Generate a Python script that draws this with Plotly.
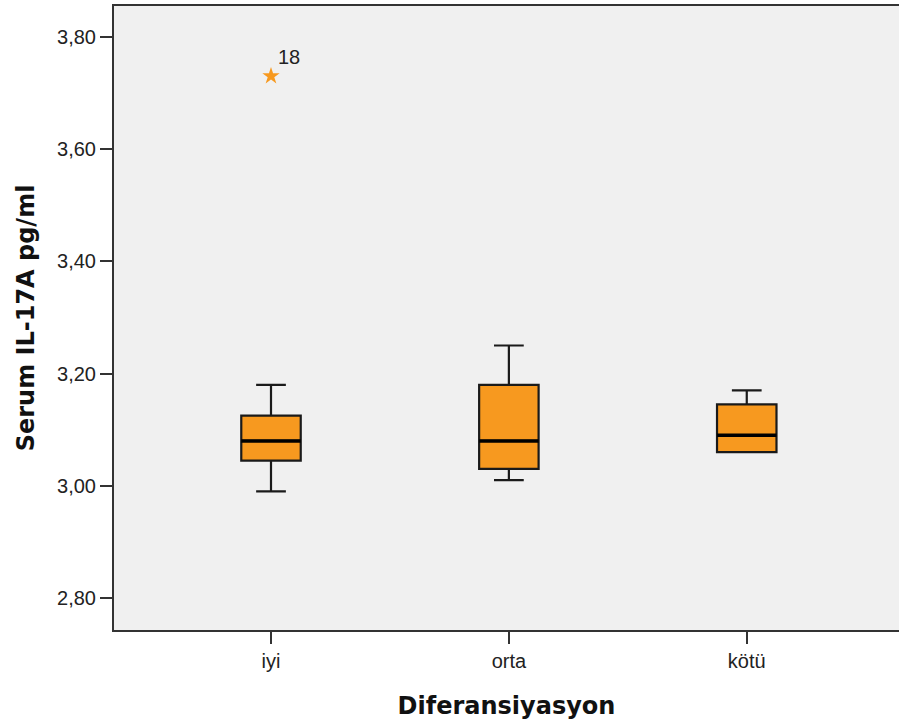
import plotly.graph_objects as go

# Serum IL-17A by differentiation grade (SPSS-style boxplot summary)
categories = ["iyi", "orta", "kötü"]
lower_whisker = [2.99, 3.01, 3.06]
q1_values = [3.045, 3.03, 3.06]
medians = [3.08, 3.08, 3.09]
q3_values = [3.125, 3.18, 3.145]
upper_whisker = [3.18, 3.25, 3.17]

# Extreme value flagged by case number
outlier_category = ["iyi"]
outlier_values = [3.73]
outlier_labels = ["18"]

y_ticks = [2.80, 3.00, 3.20, 3.40, 3.60, 3.80]
y_tick_text = ["2,80", "3,00", "3,20", "3,40", "3,60", "3,80"]

BOX_FILL = "#F7991F"
LINE = "#1a1a1a"
BOX_WIDTH = 0.25
TICK_FONT = "Liberation Sans, Arial, sans-serif"
TITLE_FONT = "DejaVu Sans, Verdana, sans-serif"

positions = list(range(len(categories)))

fig = go.Figure()

fig.add_trace(go.Box(
    x=positions,
    q1=q1_values,
    median=medians,
    q3=q3_values,
    lowerfence=lower_whisker,
    upperfence=upper_whisker,
    width=BOX_WIDTH,
    whiskerwidth=0.5,
    fillcolor=BOX_FILL,
    line=dict(color=LINE, width=2.2),
    boxpoints=False,
    hoverinfo="skip",
    showlegend=False,
))

# Heavier median bars drawn over each box
for pos, med in zip(positions, medians):
    fig.add_trace(go.Scatter(
        x=[pos - BOX_WIDTH / 2, pos + BOX_WIDTH / 2],
        y=[med, med],
        mode="lines",
        line=dict(color="#000000", width=3.5),
        hoverinfo="skip",
        showlegend=False,
    ))

outlier_x = [categories.index(c) for c in outlier_category]
fig.add_trace(go.Scatter(
    x=outlier_x,
    y=outlier_values,
    mode="markers",
    marker=dict(symbol="star", size=13, color=BOX_FILL,
                line=dict(width=0)),
    hoverinfo="skip",
    showlegend=False,
))
for xv, yv, lab in zip(outlier_x, outlier_values, outlier_labels):
    fig.add_annotation(
        x=xv, y=yv, text=lab, showarrow=False,
        xanchor="left", yanchor="bottom", xshift=5, yshift=6,
        font=dict(family=TICK_FONT, size=20, color="#222222"),
    )

fig.update_layout(
    width=899,
    height=725,
    margin=dict(l=114, r=0, t=6, b=95),
    paper_bgcolor="#FFFFFF",
    plot_bgcolor="#F0F0F0",
    font=dict(family=TICK_FONT, size=20, color="#222222"),
    xaxis=dict(
        range=[-0.66, 2.64],
        tickmode="array",
        tickvals=positions,
        ticktext=categories,
        ticks="outside",
        ticklen=12,
        tickwidth=2,
        tickcolor="#333333",
        showline=True,
        linecolor="#333333",
        linewidth=2,
        mirror=True,
        showgrid=False,
        zeroline=False,
        tickfont=dict(size=20),
        title=dict(text="<b>Diferansiyasyon</b>", standoff=26,
                   font=dict(family=TITLE_FONT, size=24, color="#111111")),
    ),
    yaxis=dict(
        range=[2.743, 3.855],
        tickmode="array",
        tickvals=y_ticks,
        ticktext=y_tick_text,
        ticks="outside",
        ticklen=12,
        tickwidth=2,
        tickcolor="#333333",
        showline=True,
        linecolor="#333333",
        linewidth=2,
        showgrid=False,
        zeroline=False,
        tickfont=dict(size=20),
        title=dict(text="<b>Serum IL-17A pg/ml</b>", standoff=16,
                   font=dict(family=TITLE_FONT, size=24, color="#111111")),
    ),
)

fig.write_html("out.html")
